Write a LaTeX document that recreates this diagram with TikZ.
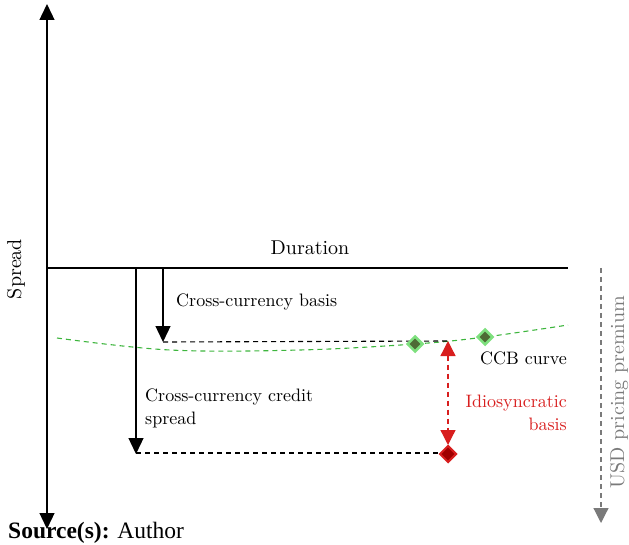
\documentclass[tikz,border=0pt]{standalone}
\usepackage{fontspec}
\setmainfont{lmroman10-regular.otf}[BoldFont=lmroman10-bold.otf]
\newfontfamily\srcfont{Liberation Serif}
\usetikzlibrary{arrows.meta,shapes.geometric}
\definecolor{ccbgreen}{HTML}{3DB53D}
\definecolor{diagreen}{HTML}{7EE07E}
\definecolor{diadark}{HTML}{4E6B35}
\definecolor{idred}{HTML}{D81E1E}
\definecolor{diared}{HTML}{A00000}
\definecolor{prgray}{HTML}{7A7A7A}
\tikzset{
  axisline/.style={line width=1.3pt, black},
  bigtip/.style={-{Triangle[width=15pt,length=16pt]}},
  lbl/.style={font=\fontsize{18}{23}\selectfont, inner sep=0pt},
  guide/.style={dashed, dash pattern=on 5pt off 4pt, line width=1.1pt, black},
  gdia/.style={diamond, draw=diagreen, fill=diadark, line width=2.5pt, minimum size=16pt, inner sep=0pt},
  rdia/.style={diamond, draw=idred, fill=diared, line width=2pt, minimum size=17pt, inner sep=0pt},
}
\begin{document}
\begin{tikzpicture}[x=1pt,y=-1pt]
\useasboundingbox (0,0) rectangle (629,545);
% coordinates
\coordinate (ytop) at (47,4);
\coordinate (ybot) at (47,529);
\coordinate (hl) at (47,268);
\coordinate (hr) at (568,268);
\coordinate (a1s) at (163,268);
\coordinate (a1e) at (163,342);
\coordinate (a2s) at (136,268);
\coordinate (a2e) at (136,454);
\coordinate (d1e) at (448,341);
\coordinate (d2e) at (440,453);
\coordinate (rtop) at (448,341);
\coordinate (rbot) at (448,445);
\coordinate (gs) at (601,268);
\coordinate (ge) at (601,523);
% axes
\draw[axisline, {Triangle[width=15pt,length=16pt]}-{Triangle[width=15pt,length=16pt]}] (ybot) -- (ytop);
\draw[axisline] (hl) -- (hr);
% green curve
\draw[ccbgreen, dashed, dash pattern=on 5pt off 4pt, line width=1.1pt]
  plot[smooth, tension=0.6] coordinates {(57,338) (170,350) (300,350) (415,344) (485,337) (568,325)};
% guide lines
\draw[guide] (a1e) -- (d1e);
\draw[guide] (a2e |- d2e) -- (d2e);
% arrows
\draw[axisline, bigtip] (a1s) -- (a1e);
\draw[axisline, bigtip] (a2s) -- (a2e);
% markers
\node[gdia] (g1) at (415,344) {};
\node[gdia] (g2) at (485,337) {};
\node[rdia] (r1) at (448,454) {};
% red arrow
\draw[idred, dashed, dash pattern=on 5pt off 4pt, line width=1.3pt, {Triangle[width=15pt,length=15pt]}-{Triangle[width=15pt,length=15pt]}] (rtop) -- (rbot);
% gray arrow
\draw[prgray, dashed, dash pattern=on 5pt off 4pt, line width=1.2pt, -{Triangle[width=15pt,length=15pt]}] (gs) -- (ge);
% labels
\node[lbl, font=\fontsize{20}{24}\selectfont, anchor=base] (dur) at (310,255) {Duration};
\node[lbl, anchor=base west] (ccb) at (176,306) {Cross-currency basis};
\node[lbl, anchor=base west, align=left] (ccs) at (145,424) {Cross-currency credit\\spread};
\node[lbl, anchor=base east] (curve) at (567,364) {CCB curve};
\node[lbl, anchor=base east, align=right, text=idred] (idio) at (567,430) {Idiosyncratic\\basis};
\node[lbl, font=\fontsize{20}{24}\selectfont, rotate=90, anchor=base] (spr) at (21,269) {Spread};
\node[lbl, font=\fontsize{20}{24}\selectfont, rotate=90, anchor=base, text=prgray] (usd) at (624,392) {USD pricing premium};
\node[inner sep=0pt, anchor=base west, font=\srcfont\fontsize{23.5}{27}\selectfont] (src) at (8,538) {\textbf{Source(s):} Author};
\end{tikzpicture}
\end{document}
